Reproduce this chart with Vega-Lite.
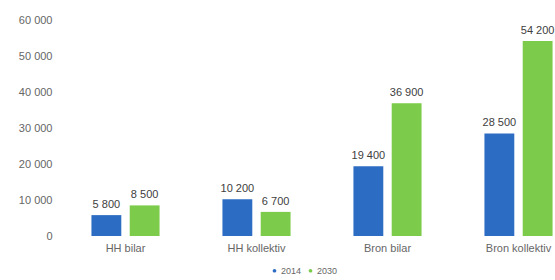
{
  "$schema": "https://vega.github.io/schema/vega-lite/v6.json",
  "autosize": {"type": "none"},
  "padding": {"left": 60, "top": 20, "right": 0, "bottom": 44},
  "width": 524,
  "height": 216,
  "background": "white",
  "config": {
    "locale": {"number": {"decimal": ",", "thousands": " ", "grouping": [3], "currency": ["", " kr"]}},
    "view": {"stroke": null},
    "font": "Liberation Sans"
  },
  "data": {
    "values": [
      {"kategori": "HH bilar", "år": "2014", "resor": 5800},
      {"kategori": "HH bilar", "år": "2030", "resor": 8500},
      {"kategori": "HH kollektiv", "år": "2014", "resor": 10200},
      {"kategori": "HH kollektiv", "år": "2030", "resor": 6700},
      {"kategori": "Bron bilar", "år": "2014", "resor": 19400},
      {"kategori": "Bron bilar", "år": "2030", "resor": 36900},
      {"kategori": "Bron kollektiv", "år": "2014", "resor": 28500},
      {"kategori": "Bron kollektiv", "år": "2030", "resor": 54200}
    ]
  },
  "encoding": {
    "x": {
      "field": "kategori", "type": "nominal", "sort": null,
      "scale": {"paddingInner": 0.48, "paddingOuter": 0.24},
      "axis": {"title": null, "labelAngle": 0, "domain": false, "ticks": false, "labelPadding": 6, "labelFontSize": 11, "labelColor": "#666666"}
    },
    "xOffset": {"field": "år", "type": "nominal", "scale": {"paddingInner": 0.22}},
    "y": {
      "field": "resor", "type": "quantitative",
      "scale": {"domain": [0, 60000]},
      "axis": {"title": null, "values": [0, 10000, 20000, 30000, 40000, 50000, 60000], "labelExpr": "replace(format(datum.value, ','), ',', ' ')", "labelOverlap": false, "grid": false, "domain": false, "ticks": false, "labelPadding": 8, "labelFontSize": 11, "labelColor": "#666666"}
    }
  },
  "layer": [
    {
      "mark": {"type": "bar"},
      "encoding": {
        "color": {
          "field": "år", "type": "nominal",
          "scale": {"range": ["#2c6cc2", "#7ccb4a"]},
          "legend": {"title": null, "orient": "none", "direction": "horizontal", "legendX": 210, "legendY": 246, "symbolType": "circle", "symbolSize": 14, "labelFontSize": 9, "labelColor": "#666666", "columnPadding": 4, "labelOffset": 2}
        }
      }
    },
    {
      "mark": {"type": "text", "dy": -5, "baseline": "bottom", "fontSize": 11, "color": "#404040"},
      "encoding": {"text": {"field": "resor", "type": "quantitative", "format": ","}}
    }
  ]
}
